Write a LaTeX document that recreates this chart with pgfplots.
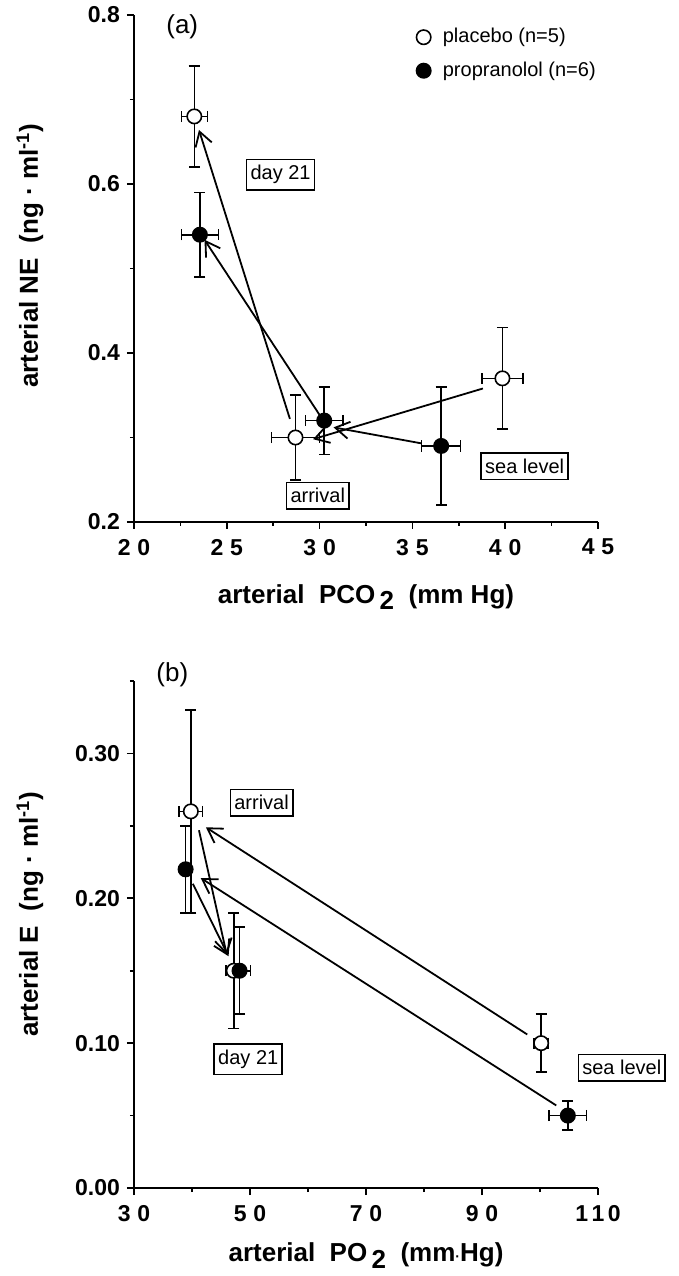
\documentclass[border=0pt]{standalone}
\usepackage{fontspec}
\setmainfont{Liberation Sans}
\usepackage{pgfplots}
\usepackage{pgfplotstable}
\pgfplotsset{compat=1.18}
\usetikzlibrary{arrows.meta}

% x y ex ey
\pgfplotstableread{
x y ex ey
23.25 0.68 0.7 0.06
28.7 0.30 1.3 0.05
39.85 0.37 1.1 0.06
}\aplac
\pgfplotstableread{
x y ex ey
23.55 0.54 1.0 0.05
30.25 0.32 1.0 0.04
36.55 0.29 1.05 0.07
}\aprop
\pgfplotstableread{
x y ex ey
39.8 0.26 2.0 0.07
47.2 0.15 1.3 0.04
100.2 0.10 1.2 0.02
}\bplac
\pgfplotstableread{
x y ex ey
38.9 0.22 0.0 0.03
48.2 0.15 1.9 0.03
104.8 0.05 3.2 0.01
}\bprop

\newcommand\tl[2]{#1\hspace{0.3em}#2}

\tikzset{annot/.style={draw, line width=0.8pt, fill=white, inner xsep=2pt,
    inner ysep=3pt, font=\fontsize{10}{11}\selectfont}}

\pgfplotsset{
  panel/.style={
    scale only axis, clip=false,
    axis x line*=bottom, axis y line*=left,
    tick align=outside,
    axis line style={line width=0.8pt},
    every tick/.style={black, line width=0.8pt},
    major tick length=3.5pt, minor tick length=2pt,
    tick label style={font=\bfseries\fontsize{11.5}{13}\selectfont},
    xticklabel style={yshift=-1.5pt},
    label style={font=\bfseries\fontsize{13}{15}\selectfont},
  },
  pts/.style={black, only marks, mark=*, mark size=3.6pt,
    mark options={draw=black, line width=0.8pt, fill=#1},
    error bars/.cd, x dir=both, x explicit, y dir=both, y explicit,
    error bar style={line width=0.8pt, black},
    error mark options={rotate=90, mark size=2.8pt, line width=0.8pt, black}},
  plac/.style={pts=white},
  prop/.style={pts=black},
  arr/.style={black, line width=0.9pt, forget plot,
    -{Straight Barb[length=7pt, width=8.5pt, line width=0.9pt]}},
}

\begin{document}
\begin{tikzpicture}
\path[use as bounding box] (-67pt,-44pt) rectangle (272.5pt,594pt);

% (a)
\begin{axis}[panel,
  at={(0pt,333pt)}, anchor=south west,
  width=232pt, height=253.5pt,
  xmin=20, xmax=45, ymin=0.2, ymax=0.8,
  xtick={20,25,30,35,40,45},
  xticklabels={\tl20,\tl25,\tl30,\tl35,\tl40,\tl45},
  minor xtick={22.5,27.5,32.5,37.5,42.5},
  ytick={0.2,0.4,0.6,0.8},
  yticklabels={0.2,0.4,0.6,0.8},
  minor ytick={0.3,0.5,0.7},
  xlabel={arterial\ \ PCO\,\raisebox{-0.5ex}{2}\ \ (mm Hg)},
  ylabel={arterial NE\ \ (ng · ml\textsuperscript{-1})},
  xlabel style={at={(axis description cs:0.5,-0.148)}, anchor=center},
  ylabel style={at={(axis description cs:-0.224,0.525)}, anchor=center},
  legend style={at={(rel axis cs:0.595,0.99)}, anchor=north west,
    draw=none, fill=none, font=\fontsize{10}{12}\selectfont,
    row sep=4pt, column sep=4pt, cells={anchor=west}},
]
\addplot[arr] coordinates {(28.4,0.322) (23.5,0.664)};
\addplot[arr] coordinates {(30.2,0.320) (23.8,0.534)};
\addplot[arr] coordinates {(38.8,0.358) (29.65,0.298)};
\addplot[arr] coordinates {(35.5,0.293) (30.75,0.312)};
\addplot[plac] table[x=x, y=y, x error=ex, y error=ey] {\aplac};
\addlegendentry{placebo (n=5)}
\addplot[prop] table[x=x, y=y, x error=ex, y error=ey] {\aprop};
\addlegendentry{propranolol (n=6)}
\node[annot] at (axis cs:27.9,0.611) {day 21};
\node[annot] at (axis cs:29.9,0.231) {arrival};
\node[annot] at (axis cs:41.05,0.266) {sea level};
\node[font=\fontsize{13}{15}\selectfont] at (axis cs:22.6,0.786) {(a)};
\end{axis}

% (b)
\begin{axis}[panel,
  at={(0pt,0pt)}, anchor=south west,
  width=232pt, height=253.5pt,
  xmin=30, xmax=110, ymin=0, ymax=0.35,
  xtick={30,50,70,90,110},
  xticklabels={\tl30,\tl50,\tl70,\tl90,1\hspace{0.15em}1\hspace{0.15em}0},
  minor xtick={40,60,80,100},
  ytick={0,0.1,0.2,0.3},
  yticklabels={0.00,0.10,0.20,0.30},
  minor ytick={0.05,0.15,0.25,0.35},
  xlabel={arterial\ \ PO\,\raisebox{-0.5ex}{2}\ \ (mm{\scriptsize·}Hg)},
  ylabel={arterial E\ \ (ng · ml\textsuperscript{-1})},
  xlabel style={at={(axis description cs:0.5,-0.134)}, anchor=center},
  ylabel style={at={(axis description cs:-0.224,0.54)}, anchor=center},
]
\addplot[arr] coordinates {(97.8,0.106) (42.4,0.249)};
\addplot[arr] coordinates {(102.8,0.057) (41.5,0.214)};
\addplot[arr] coordinates {(41.2,0.247) (46.0,0.161)};
\addplot[arr] coordinates {(40.15,0.210) (46.3,0.160)};
\addplot[plac] table[x=x, y=y, x error=ex, y error=ey] {\bplac};
\addplot[prop] table[x=x, y=y, x error=ex, y error=ey] {\bprop};
\node[annot] at (axis cs:52.0,0.266) {arrival};
\node[annot] at (axis cs:49.7,0.089) {day 21};
\node[annot] at (axis cs:114.1,0.083) {sea level};
\node[font=\fontsize{13}{15}\selectfont] at (axis cs:36.6,0.354) {(b)};
\end{axis}
\end{tikzpicture}
\end{document}
